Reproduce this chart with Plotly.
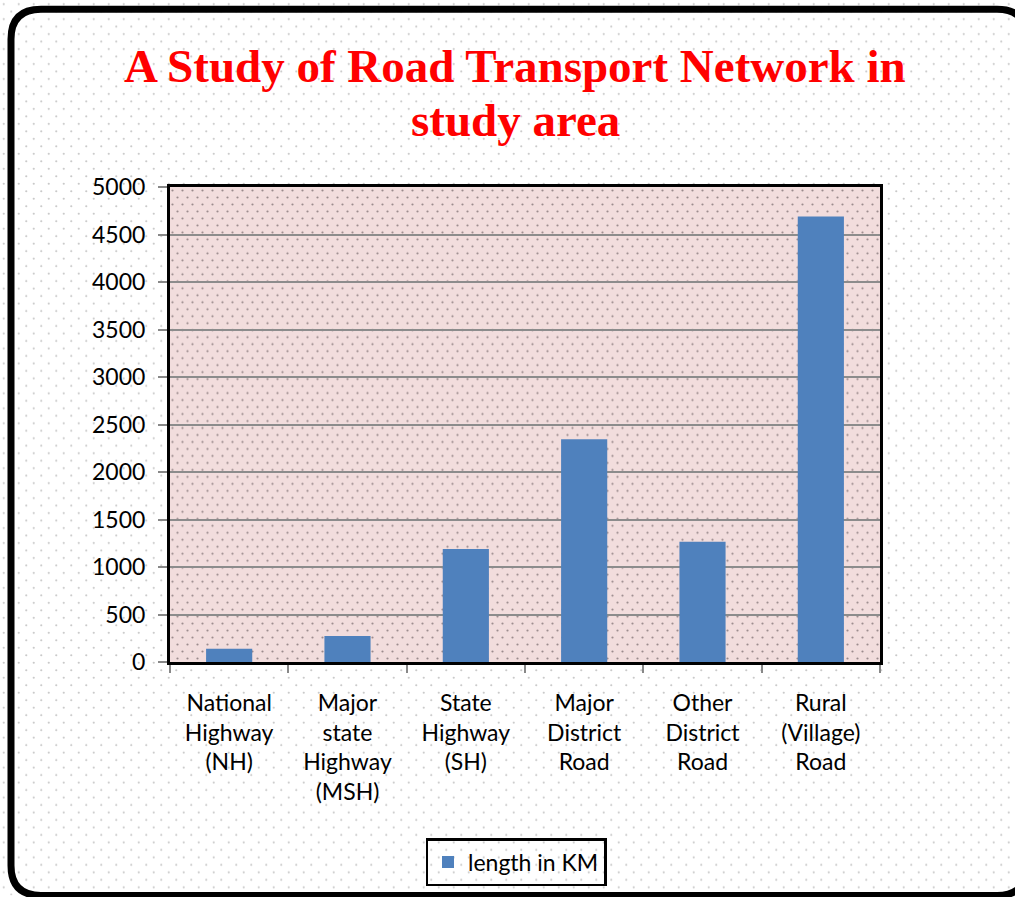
import base64
import plotly.graph_objects as go

# ---- data ----
categories = ["National<br>Highway<br>(NH)", "Major<br>state<br>Highway<br>(MSH)",
              "State<br>Highway<br>(SH)", "Major<br>District<br>Road",
              "Other<br>District<br>Road", "Rural<br>(Village)<br>Road"]
length_km = [140, 275, 1190, 2345, 1265, 4690]
series_name = "length in KM"
y_ticks = [0, 500, 1000, 1500, 2000, 2500, 3000, 3500, 4000, 4500, 5000]
title_lines = ["A Study of Road Transport Network in", "study area"]

W, H = 1015, 897
L, R, T, B = 170, 880, 187, 663  # plot area pixel box


def px(x):
    return (x - L) / (R - L)


def py(y):
    return (B - y) / (B - T)


def svg_uri(svg):
    return "data:image/svg+xml;base64," + base64.b64encode(svg.encode()).decode()


fig_dots = svg_uri(
    f'<svg xmlns="http://www.w3.org/2000/svg" width="{W}" height="{H}">'
    '<defs><pattern id="p" width="15" height="15" patternUnits="userSpaceOnUse">'
    '<circle cx="3.75" cy="3.75" r="1.1" fill="#c9c9c9"/>'
    '<circle cx="11.25" cy="11.25" r="1.1" fill="#c9c9c9"/></pattern></defs>'
    f'<rect width="{W}" height="{H}" fill="url(#p)"/></svg>')
plot_dots = svg_uri(
    f'<svg xmlns="http://www.w3.org/2000/svg" width="{R-L}" height="{B-T}">'
    '<defs><pattern id="q" width="10" height="14" patternUnits="userSpaceOnUse">'
    '<circle cx="2.5" cy="3.5" r="1.1" fill="#9a8a8c"/>'
    '<circle cx="7.5" cy="10.5" r="1.1" fill="#9a8a8c"/></pattern></defs>'
    f'<rect width="{R-L}" height="{B-T}" fill="#f2dddd"/>'
    f'<rect width="{R-L}" height="{B-T}" fill="url(#q)"/></svg>')

fig = go.Figure()
fig.add_trace(go.Bar(x=categories, y=length_km, name=series_name,
                     marker=dict(color="#4f81bd", line=dict(width=0)),
                     showlegend=True))

# rounded outer border
x0, x1, y0, y1, r = 11, 1027, 9, 897, 30
path = (f"M {px(x0 + r)},{py(y0)} L {px(x1 - r)},{py(y0)} "
        f"Q {px(x1)},{py(y0)} {px(x1)},{py(y0 + r)} "
        f"L {px(x1)},{py(y1 - r)} Q {px(x1)},{py(y1)} {px(x1 - r)},{py(y1)} "
        f"L {px(x0 + r)},{py(y1)} Q {px(x0)},{py(y1)} {px(x0)},{py(y1 - r)} "
        f"L {px(x0)},{py(y0 + r)} Q {px(x0)},{py(y0)} {px(x0 + r)},{py(y0)} Z")

title_font = dict(family="Liberation Serif, serif", size=47, color="#ff0000")
annotations = [
    dict(text=f"<b>{title_lines[0]}</b>", xref="paper", yref="paper",
         x=px(515), y=py(66), xanchor="center", yanchor="middle",
         showarrow=False, font=title_font),
    dict(text=f"<b>{title_lines[1]}</b>", xref="paper", yref="paper",
         x=px(515), y=py(120), xanchor="center", yanchor="middle",
         showarrow=False, font=title_font),
]

fig.update_layout(
    width=W, height=H,
    margin=dict(l=L, r=W - R, t=T, b=H - B, pad=0),
    paper_bgcolor="white",
    plot_bgcolor="rgba(0,0,0,0)",
    bargap=0.61,
    font=dict(family="Lato, Calibri, sans-serif", size=23, color="black"),
    images=[
        dict(source=fig_dots, xref="paper", yref="paper", x=px(0), y=py(0),
             sizex=W / (R - L), sizey=H / (B - T), sizing="stretch",
             xanchor="left", yanchor="top", layer="below"),
        dict(source=plot_dots, xref="paper", yref="paper", x=0, y=1,
             sizex=1, sizey=1, sizing="stretch",
             xanchor="left", yanchor="top", layer="below"),
    ],
    shapes=[dict(type="path", xref="paper", yref="paper", path=path,
                 line=dict(color="black", width=7), fillcolor="rgba(0,0,0,0)")],
    annotations=annotations,
    legend=dict(orientation="h", x=px(516), y=py(838), xanchor="center", yanchor="top",
                bgcolor="rgba(0,0,0,0)", bordercolor="black", borderwidth=2.5,
                font=dict(size=23), itemsizing="constant"),
    xaxis=dict(showline=True, linecolor="black", linewidth=3, mirror=True,
               ticks="outside", tickson="boundaries", ticklen=8, tickwidth=2,
               tickcolor="#888888", ticklabelstandoff=18, showgrid=False),
    yaxis=dict(range=[0, 5000], tickvals=y_ticks, showline=True, linecolor="black",
               linewidth=3, mirror=True, ticks="outside", ticklen=9, tickwidth=2,
               tickcolor="#888888", ticklabelstandoff=8, showgrid=True,
               gridcolor="#8c8c8c", gridwidth=2, zeroline=False),
)

fig.write_html("out.html", config={"displayModeBar": False},
               post_script="document.body.style.margin='0';document.body.style.overflow='hidden';")
